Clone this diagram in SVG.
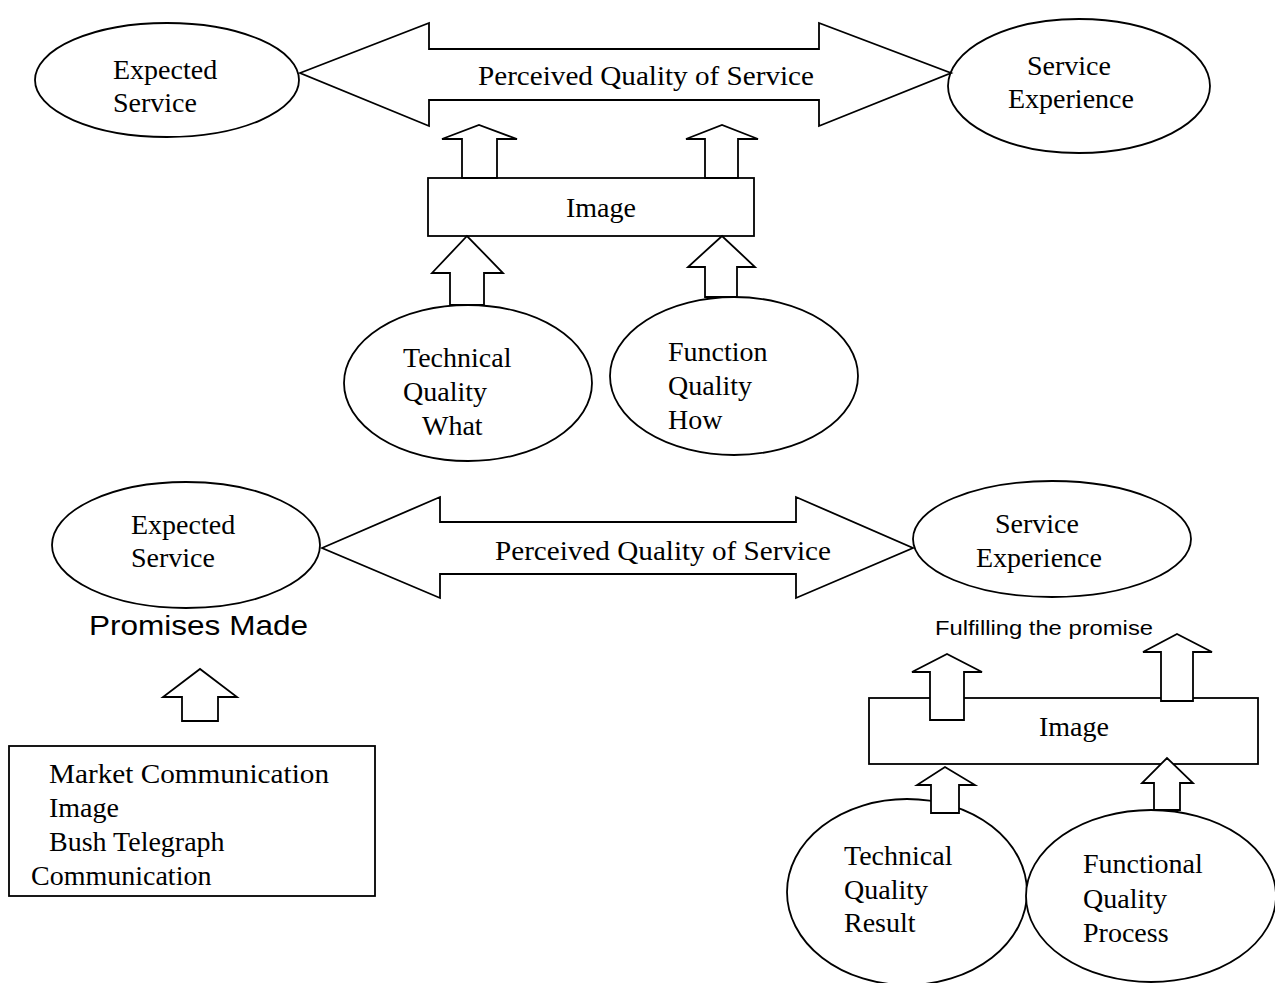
<svg xmlns="http://www.w3.org/2000/svg" width="1275" height="983" viewBox="0 0 1275 983">
  <style>
    .shape { fill: #ffffff; stroke: #000000; stroke-width: 1.8; stroke-linejoin: miter; }
    .serif { font-family: "Liberation Serif", "Times New Roman", serif; font-size: 28px; fill: #000000; }
    .sans { font-family: "Liberation Sans", Arial, sans-serif; fill: #000000; }
  </style>
  <rect x="0" y="0" width="1275" height="983" fill="#ffffff"/>

  <!-- Upper model: ellipses -->
  <g id="expected-service-top">
    <ellipse class="shape" cx="167" cy="80" rx="132" ry="57"/>
    <text class="serif" x="113" y="79">Expected</text>
    <text class="serif" x="113" y="112">Service</text>
  </g>
  <g id="service-experience-top">
    <ellipse class="shape" cx="1079" cy="86" rx="131" ry="67"/>
    <text class="serif" x="1027" y="75">Service</text>
    <text class="serif" x="1008" y="108">Experience</text>
  </g>
  <g id="technical-quality-what">
    <ellipse class="shape" cx="468" cy="383" rx="124" ry="78"/>
    <text class="serif" x="403" y="367">Technical</text>
    <text class="serif" x="403" y="401">Quality</text>
    <text class="serif" x="422" y="435">What</text>
  </g>
  <g id="function-quality-how">
    <ellipse class="shape" cx="734" cy="376" rx="124" ry="79"/>
    <text class="serif" x="668" y="361">Function</text>
    <text class="serif" x="668" y="395">Quality</text>
    <text class="serif" x="668" y="429">How</text>
  </g>

  <!-- Lower model: ellipses -->
  <g id="expected-service-bottom">
    <ellipse class="shape" cx="186" cy="545" rx="134" ry="63"/>
    <text class="serif" x="131" y="534">Expected</text>
    <text class="serif" x="131" y="567">Service</text>
  </g>
  <g id="service-experience-bottom">
    <ellipse class="shape" cx="1052" cy="539" rx="139" ry="58"/>
    <text class="serif" x="995" y="533">Service</text>
    <text class="serif" x="976" y="567">Experience</text>
  </g>
  <g id="technical-quality-result">
    <ellipse class="shape" cx="907" cy="892" rx="120" ry="93"/>
    <text class="serif" x="844" y="865">Technical</text>
    <text class="serif" x="844" y="899">Quality</text>
    <text class="serif" x="844" y="932">Result</text>
  </g>
  <g id="functional-quality-process">
    <ellipse class="shape" cx="1151" cy="896" rx="125" ry="86"/>
    <text class="serif" x="1083" y="873">Functional</text>
    <text class="serif" x="1083" y="908">Quality</text>
    <text class="serif" x="1083" y="942">Process</text>
  </g>

  <!-- Image boxes -->
  <g id="image-top">
    <rect class="shape" x="428" y="178" width="326" height="58"/>
    <text class="serif" x="566" y="217">Image</text>
  </g>
  <g id="image-bottom">
    <rect class="shape" x="869" y="698" width="389" height="66"/>
    <text class="serif" x="1039" y="736">Image</text>
  </g>

  <g id="communication-sources">
    <rect class="shape" x="9" y="746" width="366" height="150"/>
    <text class="serif" x="49" y="783" textLength="280" lengthAdjust="spacingAndGlyphs">Market Communication</text>
    <text class="serif" x="49" y="817">Image</text>
    <text class="serif" x="49" y="851">Bush Telegraph</text>
    <text class="serif" x="31" y="885">Communication</text>
  </g>

  <g id="promises-made">
    <text class="sans" x="89" y="635" font-size="28" textLength="219" lengthAdjust="spacingAndGlyphs">Promises Made</text>
  </g>
  <g id="fulfilling-the-promise">
    <text class="sans" x="935" y="635" font-size="20" textLength="218" lengthAdjust="spacingAndGlyphs">Fulfilling the promise</text>
  </g>

  <!-- Connectors: block arrows -->
  <g id="connectors">
    <!-- perceived quality, upper -->
    <polygon class="shape" points="300,73 429,23 429,49 819,49 819,23 951,73 819,126 819,100 429,100 429,126"/>
    <!-- perceived quality, lower -->
    <polygon class="shape" points="322,548 440,497 440,522 796,522 796,497 913,548 796,598 796,574 440,574 440,598"/>

    <!-- upper image box to perceived quality -->
    <polygon class="shape" points="462,178 462,139 442,139 479,125 517,139 497,139 497,178"/>
    <polygon class="shape" points="705,178 705,139 686,139 722,125 758,139 738,139 738,178"/>
    <!-- upper qualities to image box -->
    <polygon class="shape" points="450,305 450,273 432,273 467,236 503,273 484,273 484,305"/>
    <polygon class="shape" points="705,297 705,267 688,267 722,236 755,267 737,267 737,297"/>

    <!-- communication sources to promises made -->
    <polygon class="shape" points="182,721 182,697 163,697 200,669 237,697 218,697 218,721"/>

    <!-- lower image box upward -->
    <polygon class="shape" points="930,720 930,672 912,672 947,654 982,672 964,672 964,720"/>
    <polygon class="shape" points="1161,701 1161,652 1143,652 1177,634 1212,652 1193,652 1193,701"/>
    <!-- lower qualities to image box -->
    <polygon class="shape" points="931,813 931,785 917,785 945,767 975,785 959,785 959,813"/>
    <polygon class="shape" points="1154,810 1154,783 1142,783 1167,758 1193,783 1180,783 1180,810"/>
  </g>

  <g id="arrow-labels">
    <text class="serif" x="478" y="85" textLength="336" lengthAdjust="spacingAndGlyphs">Perceived Quality of Service</text>
    <text class="serif" x="495" y="560" textLength="336" lengthAdjust="spacingAndGlyphs">Perceived Quality of Service</text>
  </g>
</svg>
